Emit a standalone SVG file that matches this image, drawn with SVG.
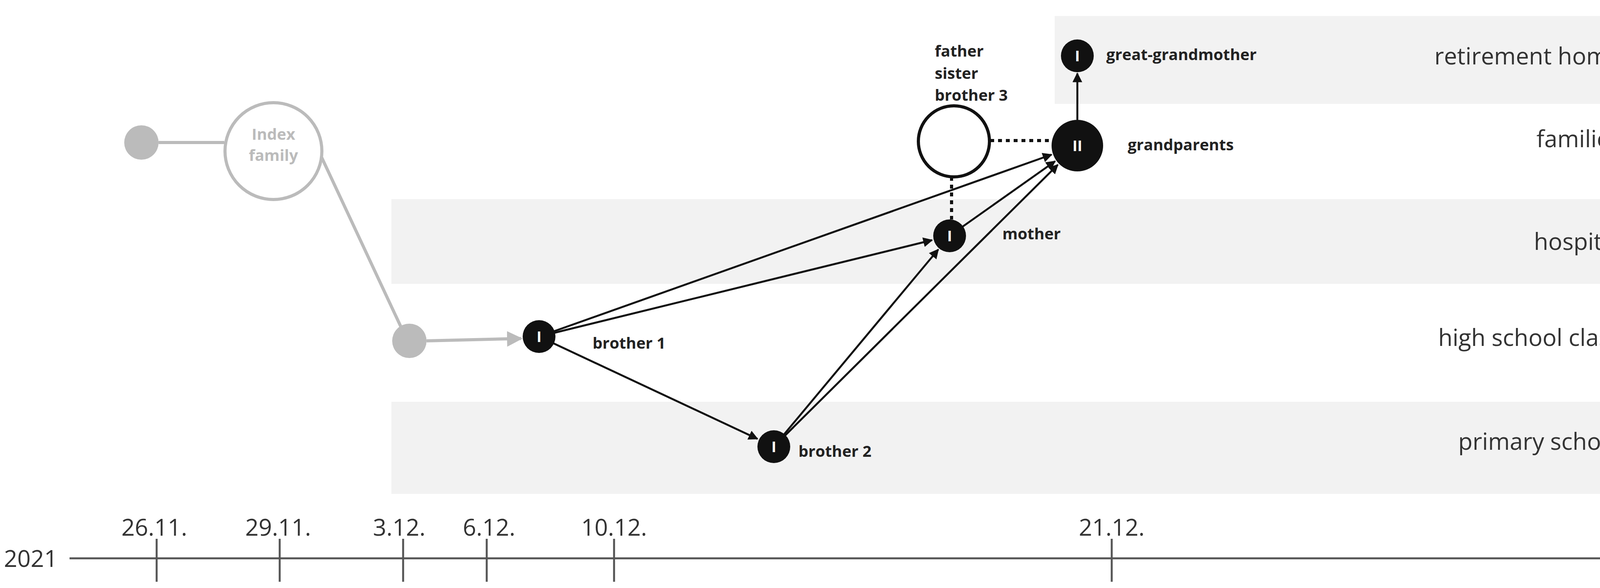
<svg xmlns="http://www.w3.org/2000/svg" width="4303" height="1506" viewBox="0 0 4303 1506">
<style>
.band{fill:#f2f2f2}
.lane{font-family:"Open Sans","Liberation Sans",sans-serif;font-size:60px;fill:#333;text-anchor:end}
.date{font-family:"Open Sans","Liberation Sans",sans-serif;font-size:60px;fill:#333;text-anchor:middle}
.lbl{font-family:"Open Sans","Liberation Sans",sans-serif;font-size:40px;font-weight:bold;fill:#222}
.in{font-family:"Open Sans","Liberation Sans",sans-serif;font-size:38px;font-weight:bold;fill:#fff;text-anchor:middle}
.edge{stroke:#111;stroke-width:5;fill:none;marker-end:url(#ah)}
.tick{stroke:#555;stroke-width:5}
</style>
<defs>
<marker id="ah" viewBox="0 0 10 10" refX="9" refY="5" markerWidth="5" markerHeight="5" orient="auto"><path d="M0,0L10,5L0,10z" fill="#111"/></marker>
<marker id="ahg" viewBox="0 0 10 10" refX="9" refY="5" markerWidth="5" markerHeight="5" orient="auto"><path d="M0,0L10,5L0,10z" fill="#bbb"/></marker>
</defs>
<rect width="4303" height="1506" fill="#fff"/>
<g id="lanes">
<rect class="band" x="2700" y="41" width="1488" height="225"/>
<rect class="band" x="1002" y="510" width="3186" height="217"/>
<rect class="band" x="1002" y="1029" width="3186" height="236"/>
<text class="lane" x="4150" y="165">retirement home</text>
<text class="lane" x="4150" y="377">families</text>
<text class="lane" x="4150" y="640">hospital</text>
<text class="lane" x="4150" y="886">high school class</text>
<text class="lane" x="4150" y="1152">primary school</text>
</g>
<g id="axis">
<line class="tick" x1="178" y1="1430" x2="4116" y2="1430"/>
<line class="tick" x1="401" y1="1380" x2="401" y2="1490"/>
<line class="tick" x1="716" y1="1380" x2="716" y2="1490"/>
<line class="tick" x1="1032" y1="1380" x2="1032" y2="1490"/>
<line class="tick" x1="1246" y1="1380" x2="1246" y2="1490"/>
<line class="tick" x1="1572" y1="1380" x2="1572" y2="1490"/>
<line class="tick" x1="2846" y1="1380" x2="2846" y2="1490"/>
<line class="tick" x1="4116" y1="1385" x2="4116" y2="1485"/>
<text class="date" x="395" y="1372">26.11.</text>
<text class="date" x="712" y="1372">29.11.</text>
<text class="date" x="1022" y="1372">3.12.</text>
<text class="date" x="1252" y="1372">6.12.</text>
<text class="date" x="1572" y="1372">10.12.</text>
<text class="date" x="2846" y="1372">21.12.</text>
<text class="date" x="10" y="1452" style="text-anchor:start">2021</text>
<text class="date" x="4156" y="1466" style="text-anchor:start">2022</text>
</g>
<g id="connectors">
<line x1="406" y1="365" x2="574" y2="365" stroke="#bbb" stroke-width="8"/>
<line x1="822" y1="400" x2="1037" y2="860" stroke="#bbb" stroke-width="8"/>
<line x1="1092" y1="873" x2="1334" y2="867" stroke="#bbb" stroke-width="8" marker-end="url(#ahg)"/>
<line class="edge" x1="1380" y1="862" x2="2692" y2="396"/>
<line class="edge" x1="1380" y1="862" x2="2386" y2="615"/>
<line class="edge" x1="1380" y1="862" x2="1939" y2="1124"/>
<line class="edge" x1="1981" y1="1144" x2="2402" y2="639"/>
<line class="edge" x1="1981" y1="1144" x2="2708" y2="422"/>
<line class="edge" x1="2431" y1="604" x2="2701" y2="413"/>
<line class="edge" x1="2758" y1="307" x2="2758" y2="188"/>
<line x1="2535" y1="360" x2="2692" y2="360" stroke="#111" stroke-width="8" stroke-dasharray="10 10"/>
<line x1="2436" y1="453" x2="2436" y2="562" stroke="#111" stroke-width="8" stroke-dasharray="10 10"/>
</g>
<g id="start"><circle cx="362" cy="365" r="44" fill="#bbb"/></g>
<g id="index">
<circle cx="700" cy="387" r="124" fill="#fff" stroke="#bbb" stroke-width="8"/>
<text class="lbl" x="700" y="358" style="fill:#bbb;text-anchor:middle">Index</text>
<text class="lbl" x="700" y="412" style="fill:#bbb;text-anchor:middle">family</text>
</g>
<g id="mid"><circle cx="1048" cy="873" r="44" fill="#bbb"/></g>
<g id="brother1"><circle cx="1380" cy="862" r="42" fill="#111"/><text class="in" x="1380" y="876">I</text><text class="lbl" x="1517" y="893">brother 1</text></g>
<g id="brother2"><circle cx="1981" cy="1144" r="42" fill="#111"/><text class="in" x="1981" y="1158">I</text><text class="lbl" x="2044" y="1170">brother 2</text></g>
<g id="mother"><circle cx="2431" cy="604" r="42" fill="#111"/><text class="in" x="2431" y="618">I</text><text class="lbl" x="2566" y="613">mother</text></g>
<g id="grandparents"><circle cx="2758" cy="373" r="66" fill="#111"/><text class="in" x="2758" y="387">II</text><text class="lbl" x="2887" y="385">grandparents</text></g>
<g id="greatgrandmother"><circle cx="2758" cy="143" r="42" fill="#111"/><text class="in" x="2758" y="157">I</text><text class="lbl" x="2832" y="154">great-grandmother</text></g>
<g id="family"><circle cx="2442" cy="362" r="91" fill="#fff" stroke="#111" stroke-width="8"/>
<text class="lbl" x="2393" y="145">father</text><text class="lbl" x="2393" y="202">sister</text><text class="lbl" x="2393" y="258">brother 3</text></g>
</svg>
